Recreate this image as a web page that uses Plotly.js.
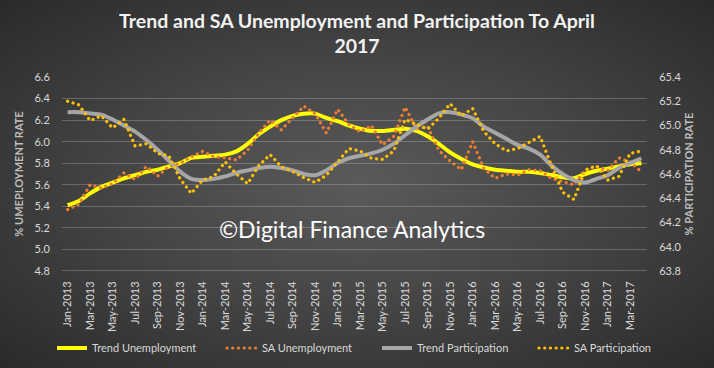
<!DOCTYPE html>
<html>
<head>
<meta charset="utf-8">
<script src="https://cdn.plot.ly/plotly-3.0.1.min.js"></script>
<style>
  html, body { margin: 0; padding: 0; }
  body { width: 714px; height: 368px; overflow: hidden;
         background: radial-gradient(ellipse at 50% 50%, #5a5a5a 0%, #464646 45%, #2a2a2a 100%); }
  #chart { width: 714px; height: 368px; }
  #chart path.js-line.dotted-line { stroke-linecap: round; }
</style>
</head>
<body>
<div id="chart"></div>
<script>
// ---- Data ----
const months = [
  "Jan-2013","Feb-2013","Mar-2013","Apr-2013","May-2013","Jun-2013","Jul-2013","Aug-2013","Sep-2013","Oct-2013","Nov-2013","Dec-2013",
  "Jan-2014","Feb-2014","Mar-2014","Apr-2014","May-2014","Jun-2014","Jul-2014","Aug-2014","Sep-2014","Oct-2014","Nov-2014","Dec-2014",
  "Jan-2015","Feb-2015","Mar-2015","Apr-2015","May-2015","Jun-2015","Jul-2015","Aug-2015","Sep-2015","Oct-2015","Nov-2015","Dec-2015",
  "Jan-2016","Feb-2016","Mar-2016","Apr-2016","May-2016","Jun-2016","Jul-2016","Aug-2016","Sep-2016","Oct-2016","Nov-2016","Dec-2016",
  "Jan-2017","Feb-2017","Mar-2017","Apr-2017"
];
const tickLabels = [
  "Jan-2013","Mar-2013","May-2013","Jul-2013","Sep-2013","Nov-2013",
  "Jan-2014","Mar-2014","May-2014","Jul-2014","Sep-2014","Nov-2014",
  "Jan-2015","Mar-2015","May-2015","Jul-2015","Sep-2015","Nov-2015",
  "Jan-2016","Mar-2016","May-2016","Jul-2016","Sep-2016","Nov-2016",
  "Jan-2017","Mar-2017"
];
const trendUnemployment = [
  5.41,5.45,5.52,5.58,5.62,5.66,5.69,5.72,5.74,5.77,5.80,5.85,
  5.86,5.87,5.88,5.91,5.98,6.07,6.14,6.20,6.24,6.26,6.26,6.22,
  6.19,6.15,6.12,6.10,6.10,6.11,6.12,6.10,6.05,5.98,5.90,5.84,
  5.79,5.76,5.74,5.73,5.72,5.72,5.71,5.69,5.67,5.66,5.70,5.73,
  5.75,5.77,5.79,5.80
];
const saUnemployment = [
  5.37,5.42,5.60,5.57,5.61,5.71,5.65,5.77,5.68,5.77,5.80,5.86,
  5.91,5.86,5.85,5.83,5.92,6.08,6.20,6.11,6.22,6.33,6.26,6.08,
  6.30,6.16,6.09,6.15,5.97,6.05,6.32,6.12,6.14,5.92,5.82,5.74,
  6.00,5.75,5.66,5.70,5.69,5.74,5.73,5.66,5.63,5.60,5.74,5.77,
  5.73,5.85,5.81,5.72
];
const trendParticipation = [
  65.11,65.11,65.10,65.09,65.05,65.00,64.95,64.88,64.80,64.71,64.62,64.56,
  64.55,64.56,64.58,64.61,64.63,64.65,64.66,64.65,64.63,64.60,64.59,64.63,
  64.69,64.73,64.75,64.77,64.80,64.85,64.92,64.99,65.05,65.10,65.11,65.09,
  65.06,64.99,64.94,64.89,64.84,64.81,64.76,64.67,64.60,64.55,64.53,64.56,
  64.59,64.65,64.69,64.73
];
const saParticipation = [
  65.20,65.17,65.04,65.08,64.98,65.05,64.83,64.85,64.77,64.75,64.56,64.44,
  64.55,64.58,64.70,64.60,64.52,64.67,64.76,64.66,64.62,64.57,64.53,64.59,
  64.70,64.81,64.79,64.73,64.72,64.79,65.05,65.01,64.97,65.06,65.18,65.08,
  65.14,64.95,64.85,64.79,64.81,64.86,64.91,64.67,64.45,64.39,64.63,64.67,
  64.55,64.58,64.77,64.79
];

const FONT = "Lato, 'Open Sans', sans-serif";
const LABEL = "#d9d9d9";
const DOT = "0.1px,5.6px";

const traces = [
  { x: months, y: trendUnemployment, name: "Trend Unemployment", type: "scatter", mode: "lines",
    line: { color: "#ffff00", width: 4, shape: "spline", smoothing: 0.8 }, yaxis: "y", legend: "legend" },
  { x: months, y: saUnemployment, name: "SA Unemployment", type: "scatter", mode: "lines",
    line: { color: "#ed7d31", width: 3.2, dash: DOT }, yaxis: "y", legend: "legend2" },
  { x: months, y: trendParticipation, name: "Trend Participation", type: "scatter", mode: "lines",
    line: { color: "#a6a6a6", width: 4, shape: "spline", smoothing: 0.8 }, yaxis: "y2", legend: "legend3" },
  { x: months, y: saParticipation, name: "SA Participation", type: "scatter", mode: "lines",
    line: { color: "#ffc000", width: 3.2, dash: DOT }, yaxis: "y2", legend: "legend4" }
];

function legendAt(px) {
  return {
    orientation: "h", x: (px - 62) / 585, xanchor: "left", y: -0.397, yanchor: "middle",
    xref: "paper", yref: "paper",
    font: { family: FONT, size: 11, color: LABEL }, bgcolor: "rgba(0,0,0,0)"
  };
}

const layout = {
  width: 714, height: 368,
  paper_bgcolor: "rgba(0,0,0,0)", plot_bgcolor: "rgba(0,0,0,0)",
  margin: { l: 62, r: 67, t: 77, b: 97, autoexpand: false },
  font: { family: FONT, color: LABEL, size: 11 },
  title: {
    text: "<b>Trend and SA Unemployment and Participation To April<br>2017</b>",
    font: { family: FONT, size: 19.5, color: "#f2f2f2" },
    x: 0.5, xanchor: "center", yref: "container", y: 0.925, yanchor: "top"
  },
  showlegend: true,
  legend: legendAt(52),
  legend2: legendAt(222),
  legend3: legendAt(377),
  legend4: legendAt(534),
  xaxis: {
    type: "category", range: [-0.5, months.length - 0.5],
    tickmode: "array", tickvals: tickLabels, ticktext: tickLabels,
    tickangle: -90, showgrid: false, zeroline: false,
    showline: false, ticks: "outside", ticklen: 5, tickcolor: "rgba(0,0,0,0)",
    tickfont: { family: FONT, size: 11, color: LABEL }
  },
  yaxis: {
    range: [4.8, 6.6], dtick: 0.2, tickformat: ".1f",
    showgrid: true, gridcolor: "rgba(255,255,255,0.22)", gridwidth: 1,
    zeroline: false, showline: false,
    ticks: "outside", ticklen: 9, tickcolor: "rgba(0,0,0,0)",
    tickfont: { family: FONT, size: 11, color: LABEL },
    title: { text: "<b>% UMEPLOYMENT RATE</b>", font: { family: FONT, size: 11, color: "#bfbfbf" }, standoff: 8 }
  },
  yaxis2: {
    range: [63.8, 65.4], dtick: 0.2, tickformat: ".1f",
    overlaying: "y", side: "right", showgrid: false, zeroline: false, showline: false,
    ticks: "outside", ticklen: 9, tickcolor: "rgba(0,0,0,0)",
    tickfont: { family: FONT, size: 11, color: LABEL },
    title: { text: "<b>% PARTICIPATION RATE</b>", font: { family: FONT, size: 11, color: "#bfbfbf" }, standoff: 4 }
  },
  shapes: [
    { type: "line", xref: "paper", yref: "y", x0: 0, x1: 1, y0: 4.8, y1: 4.8,
      line: { color: "rgba(255,255,255,0.45)", width: 1 } }
  ],
  annotations: [
    { text: "©Digital Finance Analytics", xref: "paper", yref: "paper", x: 0.496, y: 0.216,
      xanchor: "center", yanchor: "middle", showarrow: false,
      font: { family: FONT, size: 23, color: "#ffffff" } }
  ]
};

Plotly.newPlot("chart", traces, layout, { displayModeBar: false, staticPlot: true }).then(function (gd) {
  // round caps so the dotted SA lines draw as round dots, like the reference
  gd.querySelectorAll("path.js-line").forEach(function (p) {
    const da = p.style.strokeDasharray;
    if (da && da !== "none" && da !== "") p.classList.add("dotted-line");
  });
});
</script>
</body>
</html>
